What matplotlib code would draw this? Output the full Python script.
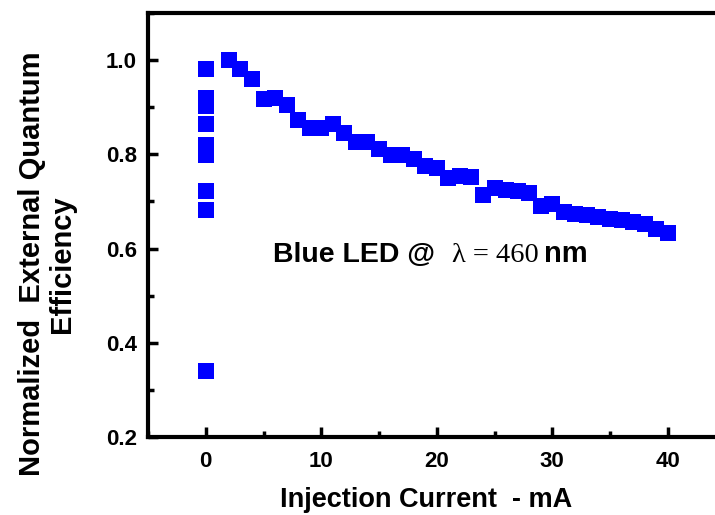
import matplotlib
matplotlib.use('Agg')
import matplotlib.pyplot as plt
from matplotlib.ticker import MultipleLocator

# 데이터 (0 mA 부근 측정값)
zero_current = [0, 0, 0, 0, 0, 0, 0, 0, 0]
zero_eqe = [0.981, 0.920, 0.902, 0.865, 0.819, 0.798, 0.723, 0.681, 0.340]

# 데이터 (주 곡선)
current = [2, 3, 4, 5, 6, 7, 8, 9, 10, 11, 12, 13, 14, 15, 16, 17, 18, 19, 20,
           21, 22, 23, 24, 25, 26, 27, 28, 29, 30, 31, 32, 33, 34, 35, 36, 37,
           38, 39, 40]
eqe = [1.0, 0.982, 0.96, 0.918, 0.92, 0.905, 0.872, 0.855, 0.855, 0.865, 0.846,
       0.826, 0.826, 0.812, 0.798, 0.798, 0.79, 0.776, 0.772, 0.75, 0.755,
       0.752, 0.714, 0.728, 0.724, 0.722, 0.718, 0.69, 0.695, 0.678, 0.673,
       0.672, 0.666, 0.662, 0.66, 0.656, 0.652, 0.641, 0.633]

plt.rcParams['font.family'] = ['Liberation Sans', 'DejaVu Sans']
plt.rcParams['font.weight'] = 'bold'

W, H = 715, 515
fig = plt.figure(figsize=(W / 100, H / 100), dpi=100)
ax = fig.add_axes([148 / W, 78 / H, 577.5 / W, 424 / H])

ax.plot(zero_current + current, zero_eqe + eqe, 's', color='#0000FF',
        markersize=11, markeredgewidth=0, clip_on=False)

ax.set_xlim(-5, 45)
ax.set_ylim(0.2, 1.1)
ax.xaxis.set_major_locator(MultipleLocator(10))
ax.xaxis.set_minor_locator(MultipleLocator(5))
ax.yaxis.set_major_locator(MultipleLocator(0.2))
ax.yaxis.set_minor_locator(MultipleLocator(0.1))
ax.set_yticks([0.2, 0.4, 0.6, 0.8, 1.0])
ax.set_yticklabels(['0.2', '0.4', '0.6', '0.8', '1.0'])

for s in ax.spines.values():
    s.set_linewidth(3)
ax.spines['right'].set_visible(False)

ax.tick_params(which='major', direction='in', length=7, width=2.5,
               labelsize=16, top=False, right=False)
ax.tick_params(which='minor', direction='in', length=4, width=2.5,
               top=False, right=False)
ax.tick_params(axis='x', which='major', pad=10)
ax.tick_params(axis='y', which='major', pad=8)
for lab in ax.get_xticklabels() + ax.get_yticklabels():
    lab.set_fontweight('bold')

fig.text(426 / W, 1 - 500 / H, 'Injection Current  - mA', ha='center',
         va='center', fontsize=19.5, fontweight='bold')
fig.text(47 / W, 1 - 264 / H, 'Normalized  External Quantum\nEfficiency',
         rotation=90, ha='center', va='center', multialignment='center',
         fontsize=21, fontweight='bold', linespacing=1.08)

# 주석
base = 1 - 262 / H
fig.text(273 / W, base, 'Blue LED @', ha='left', va='baseline',
         fontsize=20.5, fontweight='bold')
fig.text(452 / W, base, '\u03bb = 460', ha='left', va='baseline',
         fontsize=20.5, fontweight='normal', family='Liberation Serif')
fig.text(544 / W, base, 'nm', ha='left', va='baseline',
         fontsize=21, fontweight='bold')

fig.savefig('out.png', dpi=100)
